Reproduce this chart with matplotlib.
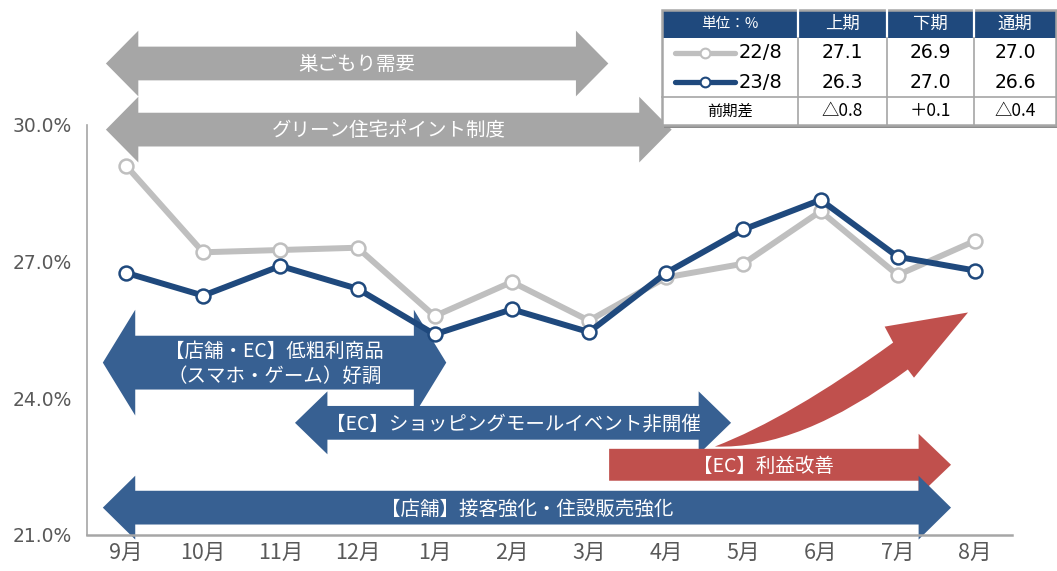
import matplotlib
matplotlib.use("Agg")
import matplotlib.pyplot as plt
from matplotlib.patches import Polygon, Rectangle, PathPatch
from matplotlib.path import Path
from matplotlib.lines import Line2D

plt.rcParams['font.family'] = ['Noto Sans CJK JP', 'DejaVu Sans']
NUM_FONT = ['DejaVu Sans', 'Noto Sans CJK JP']

# --- data ---
months = ["9月", "10月", "11月", "12月", "1月", "2月", "3月", "4月", "5月", "6月", "7月", "8月"]
rate_22 = [29.1, 27.2, 27.25, 27.3, 25.8, 26.55, 25.7, 26.65, 26.95, 28.1, 26.7, 27.45]
rate_23 = [26.75, 26.25, 26.9, 26.4, 25.4, 25.95, 25.45, 26.75, 27.7, 28.35, 27.1, 26.8]
yticks = [21.0, 24.0, 27.0, 30.0]

tbl_head = ["単位：%", "上期", "下期", "通期"]
tbl_22 = ["27.1", "26.9", "27.0"]
tbl_23 = ["26.3", "27.0", "26.6"]
tbl_diff = ["△0.8", "＋0.1", "△0.4"]

# measures: label lines, start, end, center y, body half, head half, colour, double headed
GRAY_A = "#A6A6A6"
BLUE_A = "#376092"
RED_A = "#C0504D"
measures = [
    (["巣ごもり需要"], -0.26, 6.25, 31.34, 0.37, 0.72, GRAY_A, True),
    (["グリーン住宅ポイント制度"], -0.26, 7.07, 29.89, 0.37, 0.72, GRAY_A, True),
    (["【店舗・EC】低粗利商品", "（スマホ・ゲーム）好調"], -0.30, 4.15, 24.78, 0.59, 1.16, BLUE_A, True),
    (["【EC】ショッピングモールイベント非開催"], 2.19, 7.84, 23.46, 0.37, 0.69, BLUE_A, True),
    (["【EC】利益改善"], 6.26, 10.69, 22.54, 0.35, 0.68, RED_A, False),
    (["【店舗】接客強化・住設販売強化"], -0.30, 10.69, 21.60, 0.37, 0.70, BLUE_A, True),
]
head_len = 0.42

# rising red arrow (tail, upper curve ctrl, neck up, head up, tip, head low, neck low, lower ctrl)
rise_tail = (7.63, 22.94)
rise_ctrl_up = (8.60, 23.57)
rise_neck_up = (9.94, 25.22)
rise_head_up = (9.83, 25.57)
rise_tip = (10.91, 25.88)
rise_head_low = (10.21, 24.45)
rise_neck_low = (10.13, 24.63)
rise_ctrl_low = (8.73, 22.87)


def arrow_pts(x0, x1, yc, hb, hh, hl, both):
    if both:
        return [(x0, yc), (x0 + hl, yc + hh), (x0 + hl, yc + hb), (x1 - hl, yc + hb),
                (x1 - hl, yc + hh), (x1, yc), (x1 - hl, yc - hh), (x1 - hl, yc - hb),
                (x0 + hl, yc - hb), (x0 + hl, yc - hh)]
    return [(x0, yc + hb), (x1 - hl, yc + hb), (x1 - hl, yc + hh), (x1, yc),
            (x1 - hl, yc - hh), (x1 - hl, yc - hb), (x0, yc - hb)]


W, H = 1057, 571
fig = plt.figure(figsize=(W / 100, H / 100), dpi=100)
ax = fig.add_axes([87 / W, (H - 535) / H, (1012 - 87) / W, 535 / H])
ax.set_xlim(-0.505, 11.48)
ax.set_ylim(21, 21 + 535 / 45.6)

for sp in ["top", "right"]:
    ax.spines[sp].set_visible(False)
ax.spines["left"].set_bounds(21, 30)
ax.spines["left"].set_color("#A6A6A6")
ax.spines["left"].set_linewidth(1.2)
ax.spines["bottom"].set_color("#A6A6A6")
ax.spines["bottom"].set_linewidth(1.8)

x = list(range(len(months)))
ax.set_xticks(x)
ax.set_xticklabels(months, fontsize=15.5, color="#595959")
ax.set_yticks(yticks)
ax.set_yticklabels(["%.1f%%" % v for v in yticks], fontsize=13.5, color="#595959", family=NUM_FONT)
ax.tick_params(axis="both", length=0)
ax.tick_params(axis="y", pad=11)
ax.tick_params(axis="x", pad=5)

# measure arrows
for lines, x0, x1, yc, hb, hh, col, both in measures:
    ax.add_patch(Polygon(arrow_pts(x0, x1, yc, hb, hh, head_len, both), closed=True,
                         facecolor=col, edgecolor="none", zorder=2, clip_on=False))
    tx = (x0 + x1) / 2 if both else (x0 + x1 - head_len) / 2
    if len(lines) == 1:
        ax.text(tx, yc - 0.03, lines[0], color="white", fontsize=14, ha="center", va="center", zorder=3)
    else:
        ax.text(tx, yc + 0.25, lines[0], color="white", fontsize=14, ha="center", va="center", zorder=3)
        ax.text(tx, yc - 0.31, lines[1], color="white", fontsize=14, ha="center", va="center", zorder=3)

verts = [rise_tail, rise_ctrl_up, rise_neck_up, rise_head_up, rise_tip, rise_head_low,
         rise_neck_low, rise_ctrl_low, rise_tail, rise_tail]
codes = [Path.MOVETO, Path.CURVE3, Path.CURVE3, Path.LINETO, Path.LINETO, Path.LINETO,
         Path.LINETO, Path.CURVE3, Path.CURVE3, Path.CLOSEPOLY]
ax.add_patch(PathPatch(Path(verts, codes), facecolor=RED_A, edgecolor="none", zorder=2))

# lines
ax.plot(x, rate_22, color="#BFBFBF", lw=4.3, marker="o", ms=10, mfc="white",
        mec="#BFBFBF", mew=1.8, zorder=4, clip_on=False)
ax.plot(x, rate_23, color="#1F497D", lw=4.3, marker="o", ms=10, mfc="white",
        mec="#1F497D", mew=1.8, zorder=5, clip_on=False)

# table overlay (pixel space)
ov = fig.add_axes([0, 0, 1, 1], zorder=10)
ov.set_xlim(0, W)
ov.set_ylim(H, 0)
ov.axis("off")
ov.patch.set_alpha(0)

tl, tr = 662, 1056
r_top, r_head, r_sep, r_bot = 10, 38, 97, 125
cols = [tl, 798, 887, 974, tr]
ov.add_patch(Rectangle((tl + 2, r_top + 3), tr - tl, r_bot - r_top, facecolor="#8C8C8C", edgecolor="none"))
ov.add_patch(Rectangle((tl, r_top), tr - tl, r_bot - r_top, facecolor="white", edgecolor="none"))
ov.add_patch(Rectangle((tl, r_top), tr - tl, r_head - r_top, facecolor="#1F497D", edgecolor="none"))
for cx in cols[1:-1]:
    ov.plot([cx, cx], [r_top, r_head], color="white", lw=1.6)
    ov.plot([cx, cx], [r_head, r_bot], color="#A6A6A6", lw=1.2)
ov.plot([tl, tr], [r_sep, r_sep], color="#A6A6A6", lw=1.2)
ov.add_patch(Rectangle((tl, r_top), tr - tl, r_bot - r_top, facecolor="none", edgecolor="#A6A6A6", lw=1.8))

centers = [(cols[i] + cols[i + 1]) / 2 for i in range(4)]
y_head, y_22, y_23, y_diff = 24, 53, 82, 111
ov.text(centers[0], y_head, tbl_head[0], color="white", fontsize=10.5, ha="center", va="center")
for i in range(1, 4):
    ov.text(centers[i], y_head, tbl_head[i], color="white", fontsize=12.5, ha="center", va="center")
    ov.text(centers[i], y_22, tbl_22[i - 1], color="black", fontsize=13.5, ha="center", va="center", family=NUM_FONT)
    ov.text(centers[i], y_23, tbl_23[i - 1], color="black", fontsize=13.5, ha="center", va="center", family=NUM_FONT)
    ov.text(centers[i], y_diff, tbl_diff[i - 1], color="black", fontsize=12.5, ha="center", va="center")
ov.text(centers[0], y_diff, "前期差", color="black", fontsize=11, ha="center", va="center")

for yy, col, lab in [(y_22, "#BFBFBF", "22/8"), (y_23, "#1F497D", "23/8")]:
    ov.add_line(Line2D([675, 735], [yy, yy], color=col, lw=3.8, solid_capstyle="round"))
    ov.add_line(Line2D([705], [yy], marker="o", ms=7, mfc="white", mec=col, mew=1.5))
    ov.text(739, yy, lab, color="black", fontsize=14, ha="left", va="center", family=NUM_FONT)

fig.savefig("out.png", dpi=100)
